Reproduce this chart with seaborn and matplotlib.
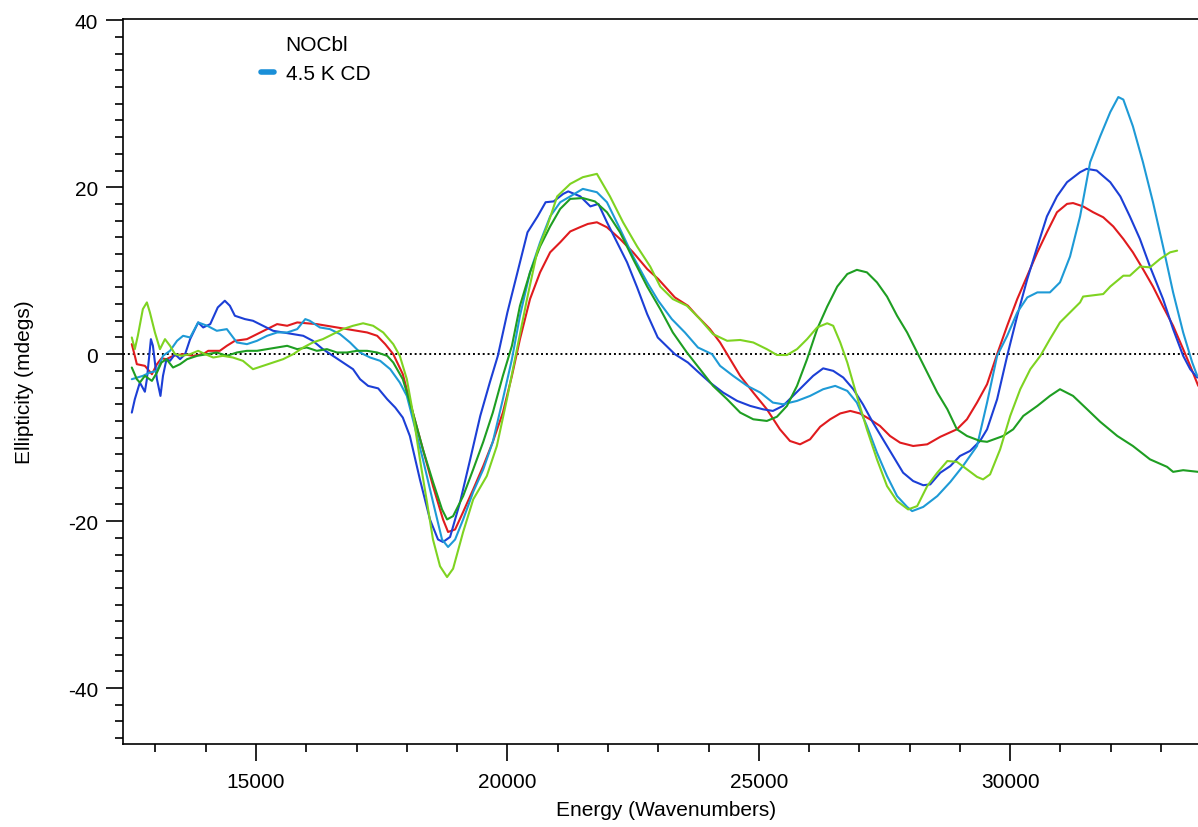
import numpy as np
import pandas as pd
import matplotlib
matplotlib.use("Agg")
import matplotlib.pyplot as plt
from matplotlib.lines import Line2D
from matplotlib.ticker import MultipleLocator
import seaborn as sns

# CD spectra (energy in cm-1, ellipticity in mdeg)
blue_x = [12530, 12590, 12690, 12790, 12830, 12910, 12950, 13030, 13100, 13150, 13220, 13290, 13390,
          13490, 13590, 13690, 13850, 13950, 14090, 14240, 14380, 14480, 14580, 14780, 14940, 15140,
          15340, 15540, 15740, 15940, 16130, 16330, 16530, 16730, 16930, 17070, 17230, 17430, 17610,
          17770, 17920, 18060, 18260, 18460, 18620, 18720, 18860, 19060, 19260, 19460, 19650, 19810,
          20000, 20200, 20400, 20600, 20760, 20920, 21110, 21210, 21450, 21650, 21810, 21980, 22180,
          22380, 22580, 22780, 22990, 23330, 23590, 23770, 24030, 24290, 24570, 24830, 25080, 25280,
          25480, 25680, 25880, 26080, 26280, 26480, 26680, 26880, 27070, 27270, 27470, 27670, 27870,
          28070, 28270, 28410, 28610, 28810, 29000, 29200, 29400, 29540, 29740, 29940, 30140, 30340,
          30540, 30730, 30930, 31130, 31390, 31520, 31720, 31990, 32190, 32380, 32580, 32780, 33040,
          33240, 33440, 33580, 33720]
blue_y = [-7.0, -5.4, -3.4, -4.5, -3.0, 1.8, 1.0, -3.0, -5.0, -2.6, -0.6, -0.8, 0.0,
          -0.6, 0.0, 1.8, 3.8, 3.2, 3.6, 5.6, 6.4, 5.8, 4.6, 4.2, 4.0, 3.4,
          2.8, 2.6, 2.4, 2.2, 1.6, 0.6, -0.2, -1.0, -1.8, -3.0, -3.8, -4.1, -5.4,
          -6.4, -7.6, -9.8, -15.0, -19.8, -22.2, -22.5, -21.9, -17.7, -12.6, -7.4, -3.4, -0.2,
          5.0, 9.8, 14.6, 16.5, 18.2, 18.3, 19.2, 19.5, 18.9, 17.7, 18.0, 15.8, 13.4,
          11.0, 8.0, 4.8, 2.0, 0.0, -1.0, -2.0, -3.4, -4.6, -5.6, -6.2, -6.6, -6.8,
          -6.2, -5.0, -3.8, -2.6, -1.7, -2.0, -2.8, -4.2, -6.0, -8.2, -10.2, -12.2, -14.2,
          -15.2, -15.7, -15.6, -14.2, -13.4, -12.2, -11.6, -10.4, -9.0, -5.4, -0.2, 4.6, 9.0,
          12.9, 16.5, 18.9, 20.6, 21.8, 22.2, 22.0, 20.6, 18.9, 16.5, 13.8, 10.5, 6.6,
          3.0, -0.2, -1.8, -2.8]

red_x = [12530, 12590, 12630, 12790, 12930, 13030, 13120, 13220, 13350, 13550, 13750, 13950, 14050,
         14280, 14420, 14580, 14820, 15020, 15220, 15420, 15620, 15820, 16010, 16210, 16410, 16610,
         16810, 17010, 17210, 17410, 17570, 17730, 17920, 18120, 18320, 18520, 18720, 18820, 18960,
         19120, 19320, 19520, 19710, 19910, 20090, 20250, 20450, 20650, 20850, 21050, 21250, 21440,
         21600, 21780, 21980, 22240, 22500, 22780, 23000, 23330, 23590, 23770, 24030, 24230, 24430,
         24630, 24890, 25160, 25420, 25620, 25820, 26020, 26220, 26420, 26620, 26820, 27010, 27210,
         27410, 27610, 27810, 28070, 28350, 28610, 28940, 29140, 29340, 29540, 29740, 29940, 30140,
         30340, 30540, 30730, 30930, 31130, 31250, 31450, 31650, 31850, 32050, 32250, 32440, 32640,
         32840, 33040, 33240, 33440, 33580, 33740]
red_y = [1.2, -0.2, -1.2, -1.4, -2.4, -1.2, -0.5, -0.6, -0.2, 0.0, -0.2, 0.0, 0.4,
         0.4, 1.0, 1.6, 1.8, 2.4, 3.0, 3.6, 3.4, 3.8, 3.7, 3.6, 3.4, 3.2,
         3.0, 2.8, 2.6, 2.2, 1.2, 0.0, -2.4, -7.0, -11.4, -15.8, -19.8, -21.3, -21.0,
         -18.9, -16.2, -13.4, -10.5, -7.0, -2.6, 1.8, 6.6, 9.8, 12.2, 13.4, 14.7, 15.2,
         15.6, 15.8, 15.2, 13.8, 12.2, 10.2, 9.0, 6.8, 5.8, 4.6, 3.0, 1.4, -0.6,
         -2.6, -4.6, -6.6, -9.0, -10.4, -10.8, -10.2, -8.7, -7.8, -7.1, -6.8, -7.1, -7.8,
         -8.6, -9.8, -10.6, -11.0, -10.8, -9.9, -9.0, -7.8, -5.8, -3.6, 0.0, 3.4, 6.6,
         9.4, 12.2, 14.6, 17.0, 18.0, 18.1, 17.7, 17.0, 16.4, 15.3, 13.8, 12.2, 10.2,
         8.1, 5.7, 3.4, 0.6, -1.4, -3.8]

lblue_x = [12530, 12750, 12890, 13030, 13150, 13290, 13430, 13550, 13690, 13850, 14030, 14220, 14420,
           14620, 14820, 15020, 15220, 15420, 15620, 15820, 15980, 16070, 16270, 16470, 16670, 16870,
           17070, 17270, 17470, 17670, 17860, 18000, 18120, 18320, 18520, 18700, 18820, 18960, 19120,
           19320, 19520, 19710, 19910, 20090, 20250, 20450, 20650, 20850, 21050, 21250, 21500, 21780,
           21980, 22240, 22500, 22780, 23000, 23270, 23530, 23790, 24070, 24230, 24490, 24770, 25030,
           25280, 25480, 25760, 26020, 26280, 26520, 26760, 26950, 27150, 27350, 27550, 27750, 27950,
           28050, 28270, 28550, 28810, 29060, 29340, 29540, 29740, 29940, 30140, 30340, 30540, 30790,
           30990, 31190, 31390, 31590, 31790, 31990, 32150, 32250, 32440, 32640, 32840, 33040, 33240,
           33440, 33620, 33720]
lblue_y = [-3.0, -2.6, -2.2, -2.0, -0.2, 0.4, 1.6, 2.2, 2.0, 3.8, 3.4, 2.8, 3.0,
           1.4, 1.2, 1.6, 2.2, 2.6, 2.6, 3.0, 4.2, 4.0, 3.2, 3.0, 2.4, 1.4,
           0.2, -0.4, -0.8, -1.8, -3.4, -5.0, -7.8, -12.6, -17.7, -22.2, -23.1, -22.2, -19.8,
           -16.5, -13.8, -10.5, -5.4, -0.6, 4.6, 9.8, 13.4, 16.5, 18.2, 18.9, 19.8, 19.4,
           18.2, 15.0, 11.7, 8.6, 6.4, 4.2, 2.6, 0.8, 0.0, -1.4, -2.6, -3.8, -4.6,
           -5.8, -6.0, -5.6, -5.0, -4.2, -3.8, -4.4, -5.8, -8.6, -11.8, -14.6, -17.0, -18.3,
           -18.8, -18.3, -17.0, -15.3, -13.4, -11.0, -5.8, -0.2, 2.2, 5.0, 6.8, 7.4, 7.4,
           8.6, 11.7, 16.5, 23.0, 26.1, 29.0, 30.8, 30.5, 27.3, 23.0, 18.2, 12.9, 7.4,
           2.6, -1.0, -2.6]

green_x = [12530, 12630, 12690, 12790, 12930, 13030, 13120, 13220, 13350, 13490, 13630, 13830, 14030,
           14220, 14420, 14620, 14820, 15020, 15220, 15420, 15620, 15820, 16010, 16210, 16410, 16610,
           16810, 17010, 17210, 17410, 17610, 17730, 17920, 18120, 18320, 18520, 18700, 18800, 18920,
           19120, 19320, 19520, 19710, 19910, 20090, 20250, 20450, 20650, 20850, 21050, 21250, 21500,
           21740, 21980, 22240, 22500, 22780, 23040, 23290, 23570, 23830, 24090, 24370, 24630, 24890,
           25160, 25360, 25560, 25760, 25960, 26160, 26360, 26560, 26760, 26950, 27150, 27350, 27550,
           27750, 27950, 28150, 28350, 28550, 28750, 28940, 29140, 29400, 29540, 29860, 30060, 30260,
           30540, 30790, 30990, 31250, 31530, 31790, 32130, 32440, 32780, 33120, 33240, 33440, 33740]
green_y = [-1.6, -3.0, -3.4, -2.6, -3.2, -2.2, -1.0, -0.6, -1.6, -1.2, -0.6, -0.2, 0.0,
           0.2, -0.2, 0.2, 0.4, 0.4, 0.6, 0.8, 1.0, 0.6, 0.8, 0.4, 0.6, 0.2,
           0.2, 0.4, 0.4, 0.2, -0.2, -1.0, -3.0, -7.0, -11.4, -15.3, -18.6, -19.8, -19.4,
           -17.0, -13.8, -10.5, -7.0, -2.6, 1.0, 5.8, 9.8, 12.9, 15.3, 17.4, 18.6, 18.7,
           18.3, 17.0, 14.6, 11.4, 8.1, 5.4, 2.6, 0.2, -1.8, -3.8, -5.4, -7.0, -7.8,
           -8.0, -7.5, -6.2, -3.8, -0.6, 3.0, 5.7, 8.1, 9.6, 10.1, 9.8, 8.6, 6.9,
           4.6, 2.6, 0.2, -2.2, -4.6, -6.6, -9.0, -9.8, -10.4, -10.5, -9.8, -9.0, -7.4,
           -6.2, -5.0, -4.2, -5.0, -6.6, -8.1, -9.8, -11.0, -12.6, -13.5, -14.1, -13.9, -14.1]

lgreen_x = [12530, 12590, 12650, 12750, 12830, 12890, 12990, 13090, 13190, 13290, 13390, 13520, 13690,
            13850, 13990, 14150, 14340, 14540, 14740, 14940, 15140, 15340, 15540, 15740, 15940, 16130,
            16330, 16530, 16730, 16930, 17130, 17330, 17530, 17730, 17860, 18000, 18120, 18260, 18400,
            18520, 18660, 18800, 18920, 19120, 19320, 19590, 19790, 19990, 20190, 20390, 20590, 20790,
            20990, 21250, 21500, 21780, 22040, 22300, 22580, 22840, 23040, 23290, 23570, 23830, 24090,
            24370, 24630, 24890, 25160, 25360, 25560, 25760, 25960, 26160, 26360, 26480, 26620, 26760,
            26950, 27150, 27350, 27550, 27750, 27970, 28150, 28350, 28550, 28750, 28940, 29140, 29340,
            29460, 29600, 29800, 30000, 30200, 30400, 30600, 30790, 30990, 31190, 31390, 31450, 31850,
            31990, 32250, 32380, 32580, 32780, 32980, 33180, 33320]
lgreen_y = [2.0, 0.6, 2.2, 5.4, 6.2, 5.0, 2.6, 0.6, 1.8, 1.0, 0.0, -0.2, 0.0,
            0.4, 0.0, -0.4, -0.2, -0.4, -0.8, -1.8, -1.4, -1.0, -0.6, 0.0, 0.8, 1.4,
            1.8, 2.4, 3.0, 3.4, 3.7, 3.4, 2.6, 1.2, -0.2, -3.0, -7.0, -12.6, -17.7,
            -22.2, -25.4, -26.7, -25.7, -21.3, -17.4, -14.6, -11.0, -5.4, 0.6, 6.6, 12.2, 15.3,
            18.9, 20.4, 21.2, 21.6, 18.9, 15.8, 12.9, 10.5, 8.1, 6.6, 5.8, 4.2, 2.4,
            1.6, 1.7, 1.4, 0.6, -0.1, -0.1, 0.6, 1.8, 3.2, 3.7, 3.4, 1.4, -1.0,
            -5.0, -9.0, -12.6, -15.8, -17.6, -18.6, -18.2, -15.8, -14.2, -12.8, -12.9, -13.8, -14.7,
            -15.0, -14.4, -11.4, -7.4, -4.2, -1.8, -0.2, 1.8, 3.8, 5.0, 6.2, 6.9, 7.2,
            8.1, 9.4, 9.4, 10.5, 10.4, 11.4, 12.2, 12.4]

series = {
    "red": (red_x, red_y),
    "blue": (blue_x, blue_y),
    "lightblue": (lblue_x, lblue_y),
    "green": (green_x, green_y),
    "lightgreen": (lgreen_x, lgreen_y),
}
colors = {"red": "#E01B1E", "blue": "#1C3FD6", "lightblue": "#1E9AD6",
          "green": "#1E9E22", "lightgreen": "#7ED321"}

frames = []
for name, (xs, ys) in series.items():
    frames.append(pd.DataFrame({"energy": xs, "ellipticity": ys, "trace": name}))
df = pd.concat(frames, ignore_index=True)

sns.set_style("ticks")
plt.rcParams["font.family"] = ["Liberation Sans", "DejaVu Sans"]
plt.rcParams["axes.unicode_minus"] = False
plt.rcParams["text.color"] = "black"
plt.rcParams["axes.labelcolor"] = "black"

fig = plt.figure(figsize=(11.98, 8.28), dpi=100)
ax = fig.add_axes([123 / 1198, 1 - 745 / 828, 1 - 123 / 1198, (745 - 20) / 828])

sns.lineplot(data=df, x="energy", y="ellipticity", hue="trace", palette=colors,
             sort=False, estimator=None, legend=False, linewidth=1.5, ax=ax)

# zero line
ax.axhline(0, color="black", linestyle=(0, (1, 1.5)), linewidth=1.4, zorder=0)

ax.set_xlim(12355, 33735)
ax.set_ylim(-46.7, 40.15)

ax.xaxis.set_major_locator(MultipleLocator(5000))
ax.xaxis.set_minor_locator(MultipleLocator(1000))
ax.yaxis.set_major_locator(MultipleLocator(20))
ax.yaxis.set_minor_locator(MultipleLocator(2))

for side in ["left", "bottom", "top"]:
    ax.spines[side].set_linewidth(1.2)
    ax.spines[side].set_color("black")
ax.spines["right"].set_visible(False)

ax.tick_params(axis="both", which="major", length=12, width=1.2, direction="out",
               labelsize=15, colors="black", labelcolor="black", pad=6)
ax.tick_params(axis="both", which="minor", length=6, width=1.2, direction="out", colors="black")
ax.tick_params(axis="x", which="major", pad=8)
ax.tick_params(top=False, right=False, which="both")

ax.set_xlabel("Energy (Wavenumbers)", fontsize=15, color="black")
ax.set_ylabel("Ellipticity (mdegs)", fontsize=15, color="black")
ax.xaxis.set_label_coords(0.505, -0.077)
ax.yaxis.set_label_coords(-0.083, 0.5)

handle = Line2D([0], [0], color="#1A8FD8", linewidth=4)
leg = ax.legend(handles=[handle], labels=["4.5 K CD"], title="NOCbl", loc="upper left",
                bbox_to_anchor=(0.121, 0.99), frameon=False, fontsize=15, title_fontsize=15,
                handlelength=0.6, handletextpad=0.6, borderaxespad=0)
for t in leg.get_texts():
    t.set_color("black")
leg.get_title().set_color("black")

fig.savefig("out.png", dpi=100)
